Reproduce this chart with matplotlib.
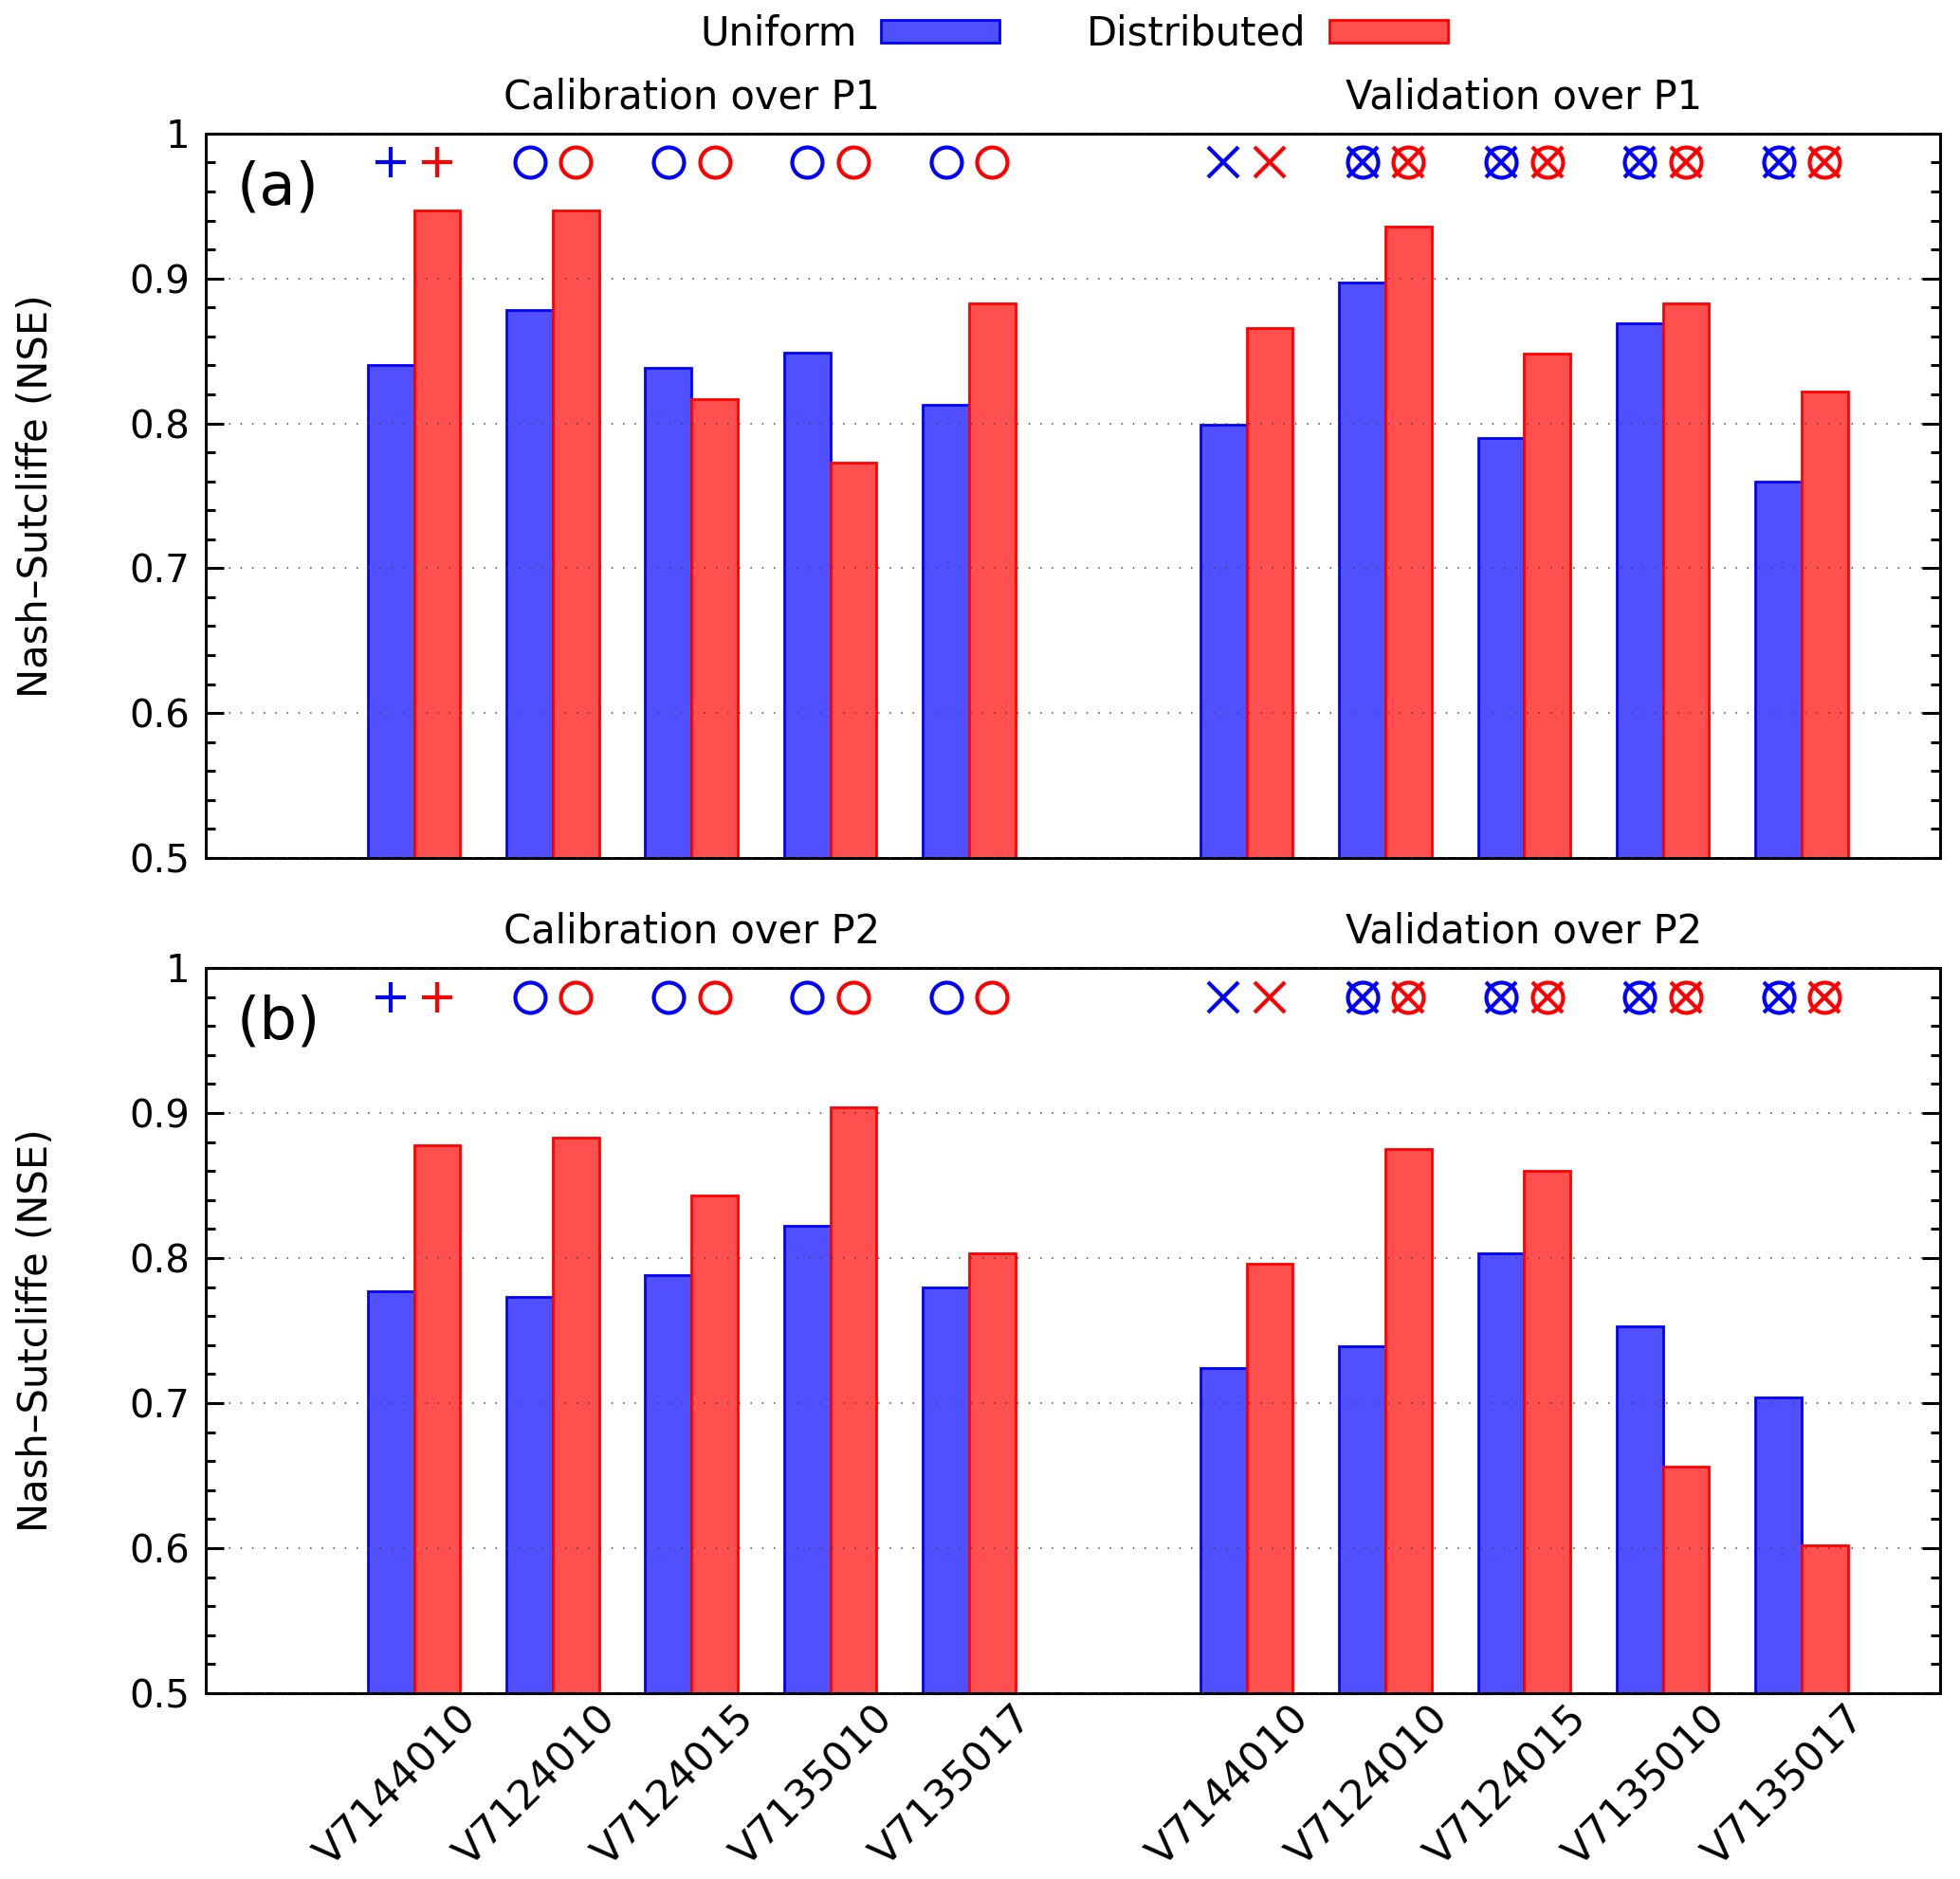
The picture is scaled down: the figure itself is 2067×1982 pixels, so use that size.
import matplotlib
matplotlib.use('Agg')
import matplotlib.pyplot as plt
import matplotlib.transforms as mtransforms
from matplotlib.ticker import MultipleLocator, FuncFormatter
import numpy as np

plt.rcParams['font.family'] = ['DejaVu Sans']

# stations (same order in calibration and validation)
stations = ['V7144010', 'V7124010', 'V7124015', 'V7135010', 'V7135017']

# NSE values, panel (a): P1
cal_p1_uniform = [0.840, 0.878, 0.838, 0.849, 0.813]
cal_p1_distrib = [0.947, 0.947, 0.817, 0.773, 0.883]
val_p1_uniform = [0.799, 0.897, 0.790, 0.869, 0.760]
val_p1_distrib = [0.866, 0.936, 0.848, 0.883, 0.822]

# panel (b): P2
cal_p2_uniform = [0.777, 0.773, 0.788, 0.822, 0.780]
cal_p2_distrib = [0.878, 0.883, 0.843, 0.904, 0.803]
val_p2_uniform = [0.724, 0.739, 0.803, 0.753, 0.704]
val_p2_distrib = [0.796, 0.875, 0.860, 0.656, 0.602]

# symbols drawn above each station pair
cal_symbols = ['+', 'o', 'o', 'o', 'o']
val_symbols = ['x', 'ox', 'ox', 'ox', 'ox']

BLUE_FILL = '#5050ff'
RED_FILL = '#ff5050'
MARK_Y = 0.98
BW = 1.0 / 3

fig = plt.figure(figsize=(20.67, 19.82), dpi=100)
ax_a = fig.add_axes([0.105, 0.5434, 0.885, 0.3855])
ax_b = fig.add_axes([0.105, 0.0989, 0.885, 0.3860])

cal_x = np.arange(1, 6)
val_x = np.arange(7, 12)


def draw_symbols(ax, xs, symbols):
    for x, s in zip(xs, symbols):
        for dx, col in ((-BW / 2, 'blue'), (BW / 2, 'red')):
            for m in s:
                ax.plot([x + dx], [MARK_Y], marker=m, ms=23, mew=3.0,
                        color=col, mfc='none', ls='none', clip_on=False, zorder=5)


def draw_panel(ax, cu, cd, vu, vd, period, tag):
    b1 = ax.bar(cal_x - BW / 2, cu, BW, bottom=0, color=BLUE_FILL, edgecolor='blue', lw=2)
    b2 = ax.bar(cal_x + BW / 2, cd, BW, bottom=0, color=RED_FILL, edgecolor='red', lw=2)
    ax.bar(val_x - BW / 2, vu, BW, bottom=0, color=BLUE_FILL, edgecolor='blue', lw=2)
    ax.bar(val_x + BW / 2, vd, BW, bottom=0, color=RED_FILL, edgecolor='red', lw=2)

    draw_symbols(ax, cal_x, cal_symbols)
    draw_symbols(ax, val_x, val_symbols)

    ax.set_xlim(-0.5, 12)
    ax.set_ylim(0.5, 1.0)
    ax.yaxis.set_major_locator(MultipleLocator(0.1))
    ax.yaxis.set_minor_locator(MultipleLocator(0.02))
    ax.yaxis.set_major_formatter(FuncFormatter(lambda v, p: '%g' % round(v, 2)))
    ax.tick_params(axis='y', which='both', direction='in', left=True, right=True,
                   labelsize=29, width=2.2, pad=12)
    ax.tick_params(axis='y', which='major', length=14)
    ax.tick_params(axis='y', which='minor', length=7)
    ax.tick_params(axis='x', length=0)
    ax.grid(axis='y', which='major', ls=(0, (1, 7)), lw=1.1, color='#444444')
    ax.set_axisbelow(False)
    for sp in ax.spines.values():
        sp.set_linewidth(2.2)
    ax.set_ylabel('Nash–Sutcliffe (NSE)', fontsize=30, labelpad=56)

    trans = mtransforms.blended_transform_factory(ax.transData, ax.transAxes)
    ax.text(3, 1.05, 'Calibration over ' + period, transform=trans,
            ha='center', va='center', fontsize=30)
    ax.text(9, 1.05, 'Validation over ' + period, transform=trans,
            ha='center', va='center', fontsize=30)
    ax.text(0.018, 0.925, tag, transform=ax.transAxes, ha='left', va='center', fontsize=45)
    return b1, b2


h1, h2 = draw_panel(ax_a, cal_p1_uniform, cal_p1_distrib, val_p1_uniform, val_p1_distrib, 'P1', '(a)')
draw_panel(ax_b, cal_p2_uniform, cal_p2_distrib, val_p2_uniform, val_p2_distrib, 'P2', '(b)')

ax_a.set_xticks(list(cal_x) + list(val_x))
ax_a.set_xticklabels([])
ax_b.set_xticks(list(cal_x) + list(val_x))
ax_b.set_xticklabels(stations + stations, rotation=45, ha='right', va='top',
                     rotation_mode='anchor', fontsize=31)
shift = mtransforms.ScaledTranslation(0.45, 0.0, fig.dpi_scale_trans)
for lab in ax_b.get_xticklabels():
    lab.set_transform(lab.get_transform() + shift)

fig.legend([h1, h2], ['Uniform', 'Distributed'], loc='center', bbox_to_anchor=(0.548, 0.982),
           ncol=2, markerfirst=False, frameon=False, fontsize=30, handlelength=3.0,
           handleheight=0.52, handletextpad=0.6, columnspacing=2.2)

fig.savefig('out.png', dpi=100)
